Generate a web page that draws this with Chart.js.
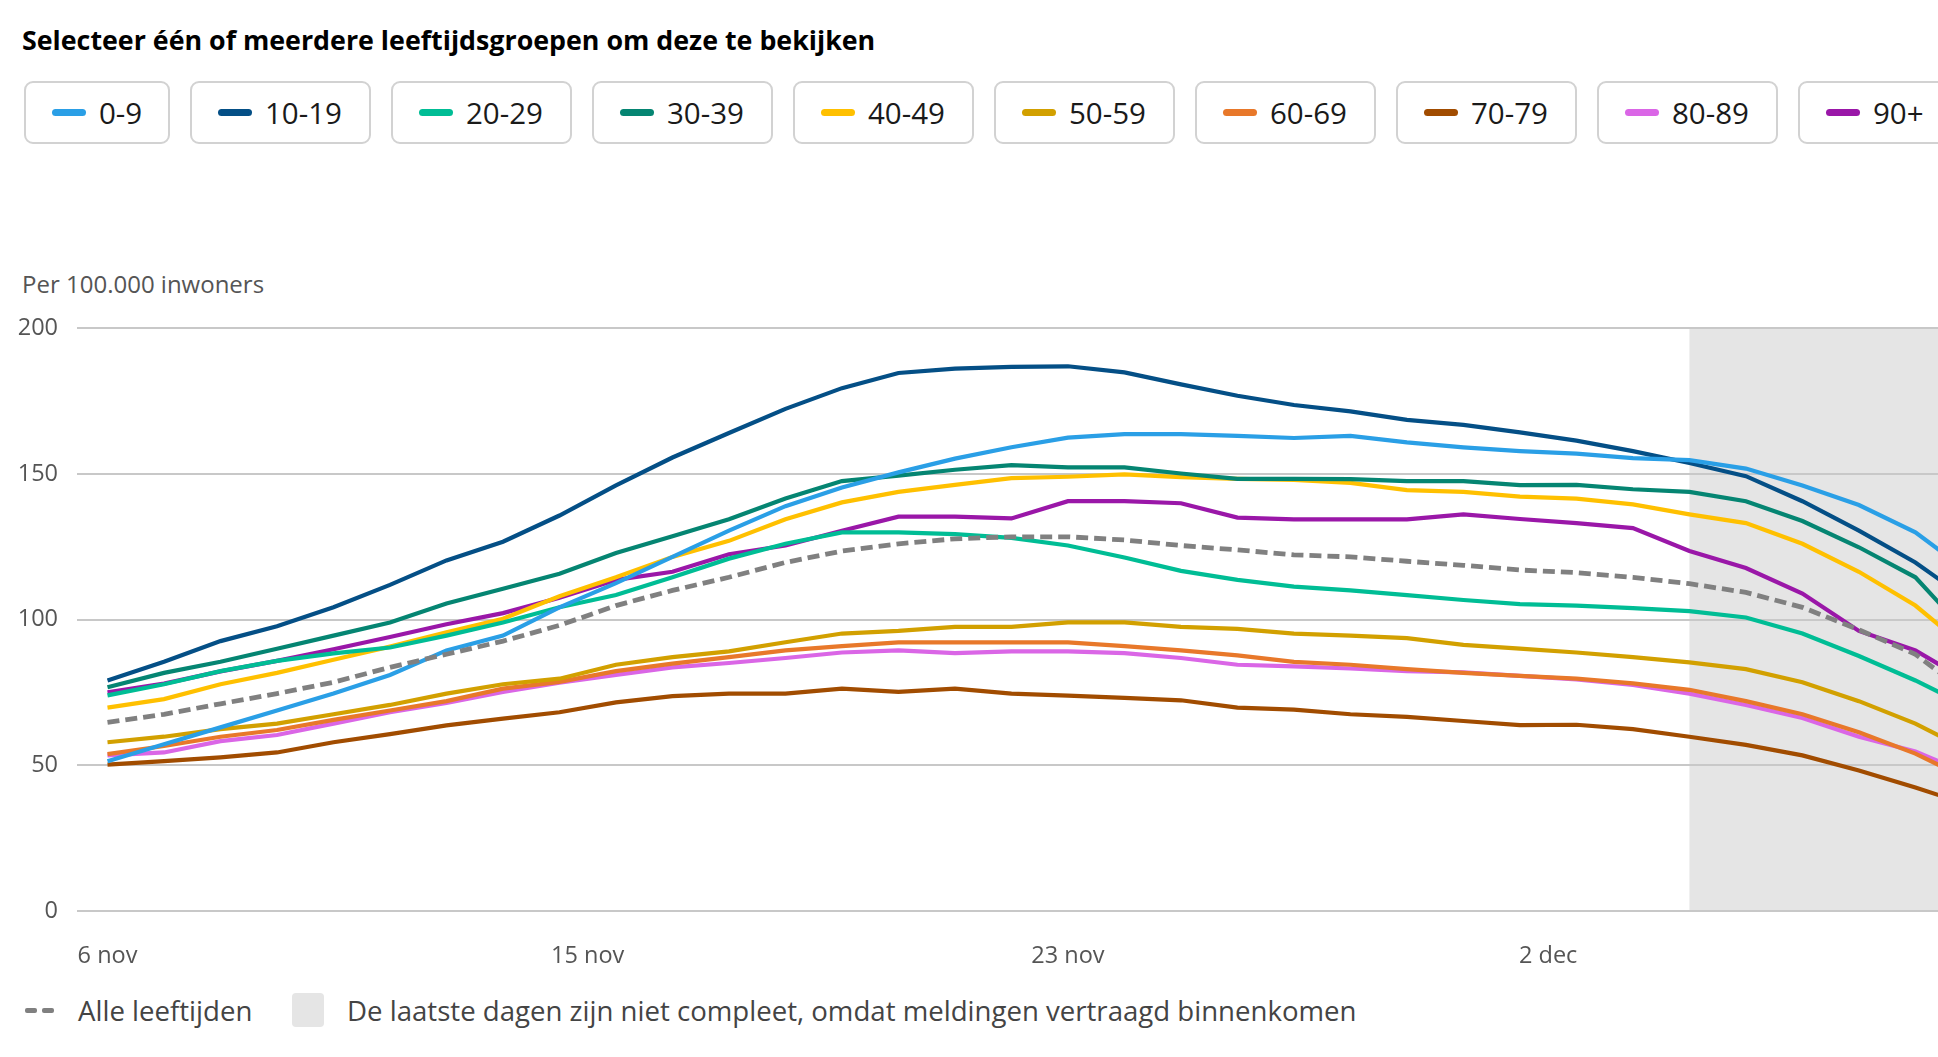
<!DOCTYPE html>
<html lang="nl">
<head>
<meta charset="utf-8">
<title>Leeftijdsgroepen per 100.000 inwoners</title>
<script src="https://cdn.jsdelivr.net/npm/chart.js@4.4.0/dist/chart.umd.min.js"></script>
<style>
  html, body { margin: 0; padding: 0; background: #fff; }
  body { width: 1938px; height: 1057px; overflow: hidden; position: relative; font-family: 'Open Sans', sans-serif; }
  .title { position: absolute; left: 22px; top: 24px; line-height: 32px; font-size: 26.8px; font-weight: 700; color: #000; white-space: nowrap; }
  .buttons { position: absolute; left: 24px; top: 81px; display: flex; gap: 20px; white-space: nowrap; }
  .btn { box-sizing: border-box; width: 181px; height: 63px; border: 2px solid #d2d2d2; border-radius: 9px; display: flex; align-items: center; padding-left: 26px; background: #fff; flex: none; }
  .btn:first-child { width: 146px; }
  .btn .sw { width: 34px; height: 7px; border-radius: 4px; margin-right: 13px; flex: none; }
  .btn .lb { font-size: 29.5px; color: #1a1a1a; line-height: 32px; }
  .unit { position: absolute; left: 22px; top: 270px; font-size: 24px; line-height: 28px; color: #555; white-space: nowrap; }
  .chart-box { position: absolute; left: 0; top: 295px; width: 1938px; height: 676px; }
  .foot { position: absolute; left: 0; top: 992px; height: 36px; width: 1938px; }
  .dash { position: absolute; top: 16px; width: 12px; height: 5px; border-radius: 2px; background: #808080; }
  .box { position: absolute; left: 292px; top: 1px; width: 32px; height: 34px; border-radius: 4px; background: #e5e5e5; }
  .foot span { position: absolute; top: 0; font-size: 27.6px; line-height: 36px; color: #444; white-space: nowrap; }
</style>
</head>
<body>
<div class="title">Selecteer één of meerdere leeftijdsgroepen om deze te bekijken</div>
<div class="buttons" id="buttons"></div>
<div class="unit">Per 100.000 inwoners</div>
<div class="chart-box"><canvas id="chart"></canvas></div>
<div class="foot">
  <div class="dash" style="left:25px"></div>
  <div class="dash" style="left:42px"></div>
  <span style="left:78px">Alle leeftijden</span>
  <div class="box"></div>
  <span style="left:347px">De laatste dagen zijn niet compleet, omdat meldingen vertraagd binnenkomen</span>
</div>
<script>
// dagen vanaf 6 nov
const days = ['6 nov', '7 nov', '8 nov', '9 nov', '10 nov', '11 nov', '12 nov', '13 nov', '14 nov', '15 nov',
  '16 nov', '17 nov', '18 nov', '19 nov', '20 nov', '21 nov', '22 nov', '23 nov', '24 nov', '25 nov',
  '26 nov', '27 nov', '28 nov', '29 nov', '30 nov', '1 dec', '2 dec', '3 dec', '4 dec', '5 dec',
  '6 dec', '7 dec', '8 dec', '9 dec'];

const tickValues = [0, 8.5, 17, 25.5];
const tickLabels = ['6 nov', '15 nov', '23 nov', '2 dec'];

// vanaf deze dag zijn de cijfers niet compleet
const incompleteFrom = 28;

const groups = ['0-9', '10-19', '20-29', '30-39', '40-49', '50-59', '60-69', '70-79', '80-89', '90+'];
const colors = ['#2a9fe6', '#044f86', '#00bd95', '#058572', '#ffc000', '#d2a000', '#e8782a', '#a14c00', '#da66e6', '#9a17a8'];

const age0 = [51.4, 57.2, 63, 68.8, 74.6, 81, 89.4, 94.5, 104.2, 112.5, 121.5, 130.5, 138.9, 145.3, 150.5, 155.2, 159.1,
  162.4, 163.6, 163.6, 163, 162.3, 163, 160.8, 159.1, 157.8, 156.9, 155.4, 154.7, 151.8, 146, 139.3, 129.9, 115.5];
const age10 = [79.1, 85.5, 92.6, 97.7, 104.2, 111.9, 120.3, 126.7, 135.7, 146, 155.6, 164, 172.3, 179.4, 184.6, 186.1, 186.7,
  186.9, 184.8, 180.7, 176.8, 173.6, 171.4, 168.5, 166.8, 164.2, 161.4, 157.8, 153.7, 149.2, 140.6, 130.5, 119.6, 105.8];
const age20 = [74, 77.8, 82.3, 85.8, 88.4, 90.4, 94.5, 99, 104.2, 108.4, 114.5, 120.9, 126, 129.9, 129.9, 129.3, 128,
  125.4, 121.3, 116.7, 113.6, 111.3, 110, 108.4, 106.7, 105.3, 104.8, 103.9, 102.9, 100.7, 95.2, 87.5, 79.1, 69.5];
const age30 = [76.8, 81.7, 85.5, 90, 94.5, 99, 105.5, 110.6, 115.7, 122.8, 128.6, 134.4, 141.5, 147.5, 149.4, 151.4, 153,
  152.2, 152.2, 150.1, 148.3, 148.3, 148.2, 147.5, 147.5, 146.1, 146.2, 144.7, 143.8, 140.6, 133.8, 124.8, 114.5, 93.5];
const age40 = [69.8, 72.7, 77.8, 81.7, 86.2, 90.7, 95.6, 100.3, 108, 114.5, 121.5, 127, 134.4, 140.2, 143.8, 146.2, 148.5,
  149, 149.8, 148.9, 148.3, 147.9, 146.9, 144.4, 143.8, 142.2, 141.5, 139.5, 136.1, 133.1, 126, 116.4, 104.8, 88.8];
const age50 = [57.9, 59.8, 62.4, 64.3, 67.5, 70.7, 74.6, 77.8, 79.7, 84.5, 87.1, 89.1, 92.2, 95.2, 96.1, 97.5, 97.5,
  99, 99, 97.5, 96.8, 95.2, 94.5, 93.6, 91.3, 90, 88.7, 87.1, 85.3, 83, 78.5, 72, 64.3, 54.5];
const age60 = [53.8, 56.6, 59.8, 62.1, 65.6, 68.8, 72, 76.3, 78.6, 82.3, 84.9, 87.1, 89.4, 90.9, 92.2, 92.2, 92.2,
  92.2, 90.9, 89.4, 87.7, 85.5, 84.5, 83, 81.7, 80.7, 79.7, 78.1, 75.9, 72, 67.5, 61.3, 54, 44.5];
const age70 = [50.2, 51.4, 52.7, 54.4, 57.9, 60.7, 63.7, 66, 68.2, 71.6, 73.7, 74.6, 74.6, 76.3, 75.2, 76.3, 74.6,
  73.9, 73.1, 72.3, 69.8, 69.1, 67.5, 66.6, 65.2, 63.8, 63.9, 62.4, 59.8, 57, 53.4, 48.2, 42.4, 36];
const age80 = [53.4, 54.4, 58.3, 60.4, 64.3, 68.2, 71.4, 75.2, 78.3, 81, 83.6, 85.1, 86.8, 88.7, 89.4, 88.5, 89.1,
  89.1, 88.5, 86.8, 84.5, 83.9, 83.2, 82.3, 81.9, 80.7, 79.5, 77.6, 74.6, 70.7, 66.2, 59.8, 54.7, 46.5];
const age90 = [75, 78, 82.2, 85.8, 89.8, 94, 98.4, 102.2, 107.5, 113.6, 116.4, 122.4, 125.4, 130.5, 135.3, 135.3, 134.7,
  140.6, 140.6, 139.9, 135, 134.4, 134.4, 134.4, 136.1, 134.5, 133.1, 131.4, 123.5, 117.7, 108.9, 96.1, 89.4, 78];
const allAges = [64.7, 67.5, 71.1, 74.6, 78.5, 83.6, 88.1, 92.6, 98, 104.8, 110, 114.5, 119.6, 123.5, 126, 127.7, 128.4,
  128.4, 127.3, 125.4, 123.9, 122.2, 121.5, 120, 118.6, 117, 116.1, 114.5, 112.3, 109.3, 104.2, 96.5, 88.1, 73.5];

const series = [age0, age10, age20, age30, age40, age50, age60, age70, age80, age90];

// knoppen
const buttons = document.getElementById('buttons');
groups.forEach((g, i) => {
  const btn = document.createElement('div');
  btn.className = 'btn';
  btn.innerHTML = '<span class="sw" style="background:' + colors[i] + '"></span><span class="lb">' + g + '</span>';
  buttons.appendChild(btn);
});

const toPoints = (arr) => arr.map((y, i) => ({ x: i, y: y }));

const datasets = [{
  label: 'Alle leeftijden',
  data: toPoints(allAges),
  borderColor: '#808080',
  borderDash: [12, 6],
  borderWidth: 4.8
}];
series.forEach((s, i) => {
  datasets.push({
    label: groups[i],
    data: toPoints(s),
    borderColor: colors[i],
    borderWidth: 4.2
  });
});

// grijs vlak voor de laatste dagen
const shade = {
  id: 'shade',
  beforeDraw(chart) {
    const { ctx, chartArea, scales } = chart;
    const x0 = scales.x.getPixelForValue(incompleteFrom);
    ctx.save();
    ctx.fillStyle = '#e5e5e5';
    ctx.fillRect(x0, chartArea.top, chartArea.right - x0, chartArea.bottom - chartArea.top);
    ctx.restore();
  }
};

const tickFont = { family: 'Open Sans', size: 23.5 };

new Chart(document.getElementById('chart'), {
  type: 'line',
  data: { datasets: datasets },
  plugins: [shade],
  options: {
    responsive: true,
    maintainAspectRatio: false,
    animation: false,
    layout: { padding: { top: 21, left: 0, right: 0, bottom: 0 } },
    elements: {
      point: { radius: 0 },
      line: { tension: 0, fill: false }
    },
    plugins: {
      legend: { display: false },
      tooltip: { enabled: false }
    },
    scales: {
      x: {
        type: 'linear',
        min: -0.54,
        max: 32.4,
        grid: { display: false },
        border: { display: false },
        afterBuildTicks: (scale) => {
          scale.ticks = tickValues.map(v => ({ value: v }));
        },
        afterFit: (scale) => { scale.height = 60; },
        ticks: {
          autoSkip: false,
          maxRotation: 0,
          padding: 23,
          color: '#555',
          font: tickFont,
          callback: (v, i) => tickLabels[i]
        }
      },
      y: {
        min: 0,
        max: 200,
        afterFit: (scale) => { scale.width = 77; },
        grid: { color: '#c8c8c8', lineWidth: 2, drawTicks: false },
        border: { display: false },
        ticks: {
          stepSize: 50,
          padding: 19,
          color: '#555',
          font: tickFont
        }
      }
    }
  }
});
</script>
</body>
</html>
